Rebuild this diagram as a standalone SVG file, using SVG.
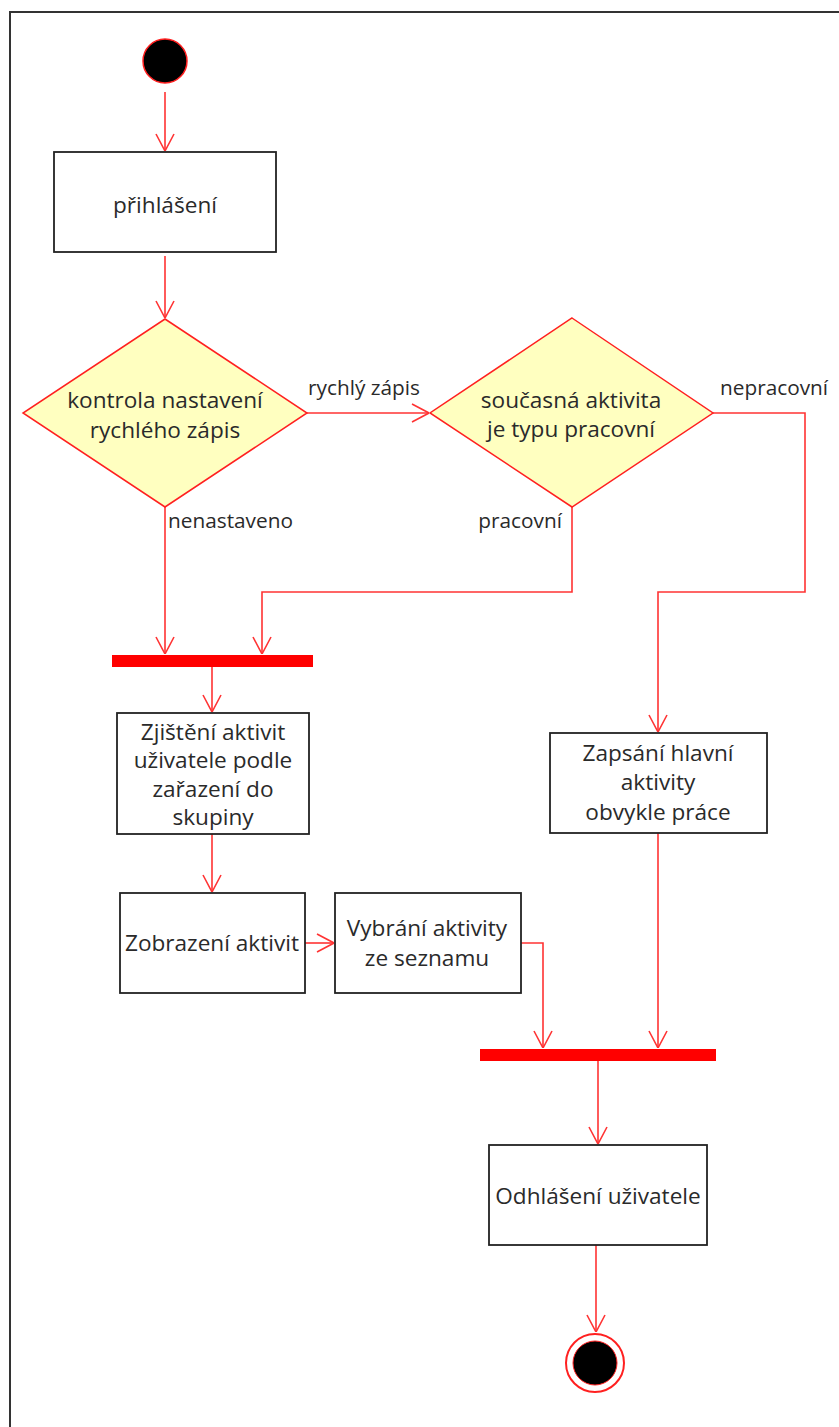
<svg xmlns="http://www.w3.org/2000/svg" width="839" height="1427" viewBox="0 0 839 1427">
<defs>
<style>
.box{fill:#fff;stroke:#222;stroke-width:1.8}
.dia{fill:#FFFFC0;stroke:#FF2020;stroke-width:1.5}
.bar{fill:#FF0000}
.t{font-family:"Open Sans","Liberation Sans",sans-serif;font-size:22.6px;fill:#2a2a2a;text-anchor:middle}
.lbl{font-family:"Open Sans","Liberation Sans",sans-serif;font-size:20.8px;fill:#2a2a2a}
.c{fill:none;stroke:#FF3333;stroke-width:1.6;marker-end:url(#arr)}
</style>
<marker id="arr" viewBox="0 0 18 20" refX="18" refY="10" markerWidth="18" markerHeight="20" markerUnits="userSpaceOnUse" orient="auto">
<path d="M1,1 L18,10 L1,19" fill="none" stroke="#FF3333" stroke-width="1.6"/>
</marker>
</defs>
<rect width="839" height="1427" fill="#fff"/>
<path d="M10,1427 V12 H839" fill="none" stroke="#333" stroke-width="2"/>

<g id="connectors">
<path class="c" d="M165,92 V151"/>
<path class="c" d="M165,256 V318"/>
<path class="c" d="M307,413 H429"/>
<path class="c" d="M572,507 V592 H262 V654"/>
<path class="c" d="M165,507 V654"/>
<path class="c" d="M713,413 H805 V592 H658 V732"/>
<path class="c" d="M212,667 V712"/>
<path class="c" d="M212,834 V892"/>
<path class="c" d="M305,943 H334"/>
<path class="c" d="M521,943 H543 V1048"/>
<path class="c" d="M658,833 V1048"/>
<path class="c" d="M598,1061 V1144"/>
<path class="c" d="M596,1245 V1332"/>
<text class="lbl" x="308" y="395">rychlý zápis</text>
<text class="lbl" x="168" y="528">nenastaveno</text>
<text class="lbl" x="562" y="528" text-anchor="end">pracovní</text>
<text class="lbl" x="720" y="395">nepracovní</text>
</g>

<g id="start">
<circle cx="165" cy="61" r="22" fill="#000" stroke="#FF2020" stroke-width="1.5"/>
</g>

<g id="prihlaseni">
<rect class="box" x="54" y="152" width="222" height="100"/>
<text class="t" x="165" y="213">přihlášení</text>
</g>

<g id="kontrola">
<polygon class="dia" points="165,319 307,413 165,507 23,413"/>
<text class="t" x="165" y="408">kontrola nastavení</text>
<text class="t" x="165" y="438">rychlého zápis</text>
</g>

<g id="soucasna">
<polygon class="dia" points="572,318 713,413 572,507 430,413"/>
<text class="t" x="571" y="408">současná aktivita</text>
<text class="t" x="571" y="437">je typu pracovní</text>
</g>

<g id="fork1">
<rect class="bar" x="112" y="655" width="201" height="12"/>
</g>

<g id="zjisteni">
<rect class="box" x="117" y="713" width="192" height="121"/>
<text class="t" x="213" y="740">Zjištění aktivit</text>
<text class="t" x="213" y="768">uživatele podle</text>
<text class="t" x="213" y="797">zařazení do</text>
<text class="t" x="213" y="825">skupiny</text>
</g>

<g id="zobrazeni">
<rect class="box" x="120" y="893" width="185" height="100"/>
<text class="t" x="212" y="951">Zobrazení aktivit</text>
</g>

<g id="vybrani">
<rect class="box" x="335" y="893" width="186" height="100"/>
<text class="t" x="427" y="936">Vybrání aktivity</text>
<text class="t" x="427" y="966">ze seznamu</text>
</g>

<g id="zapsani">
<rect class="box" x="550" y="733" width="217" height="100"/>
<text class="t" x="658" y="761">Zapsání hlavní</text>
<text class="t" x="658" y="790">aktivity</text>
<text class="t" x="658" y="820">obvykle práce</text>
</g>

<g id="fork2">
<rect class="bar" x="480" y="1049" width="236" height="12"/>
</g>

<g id="odhlaseni">
<rect class="box" x="489" y="1145" width="218" height="100"/>
<text class="t" x="598" y="1204">Odhlášení uživatele</text>
</g>

<g id="end">
<circle cx="595" cy="1363" r="29" fill="#fff" stroke="#FF2020" stroke-width="2"/>
<circle cx="595" cy="1363" r="22" fill="#000" stroke="#FF2020" stroke-width="1"/>
</g>
</svg>
